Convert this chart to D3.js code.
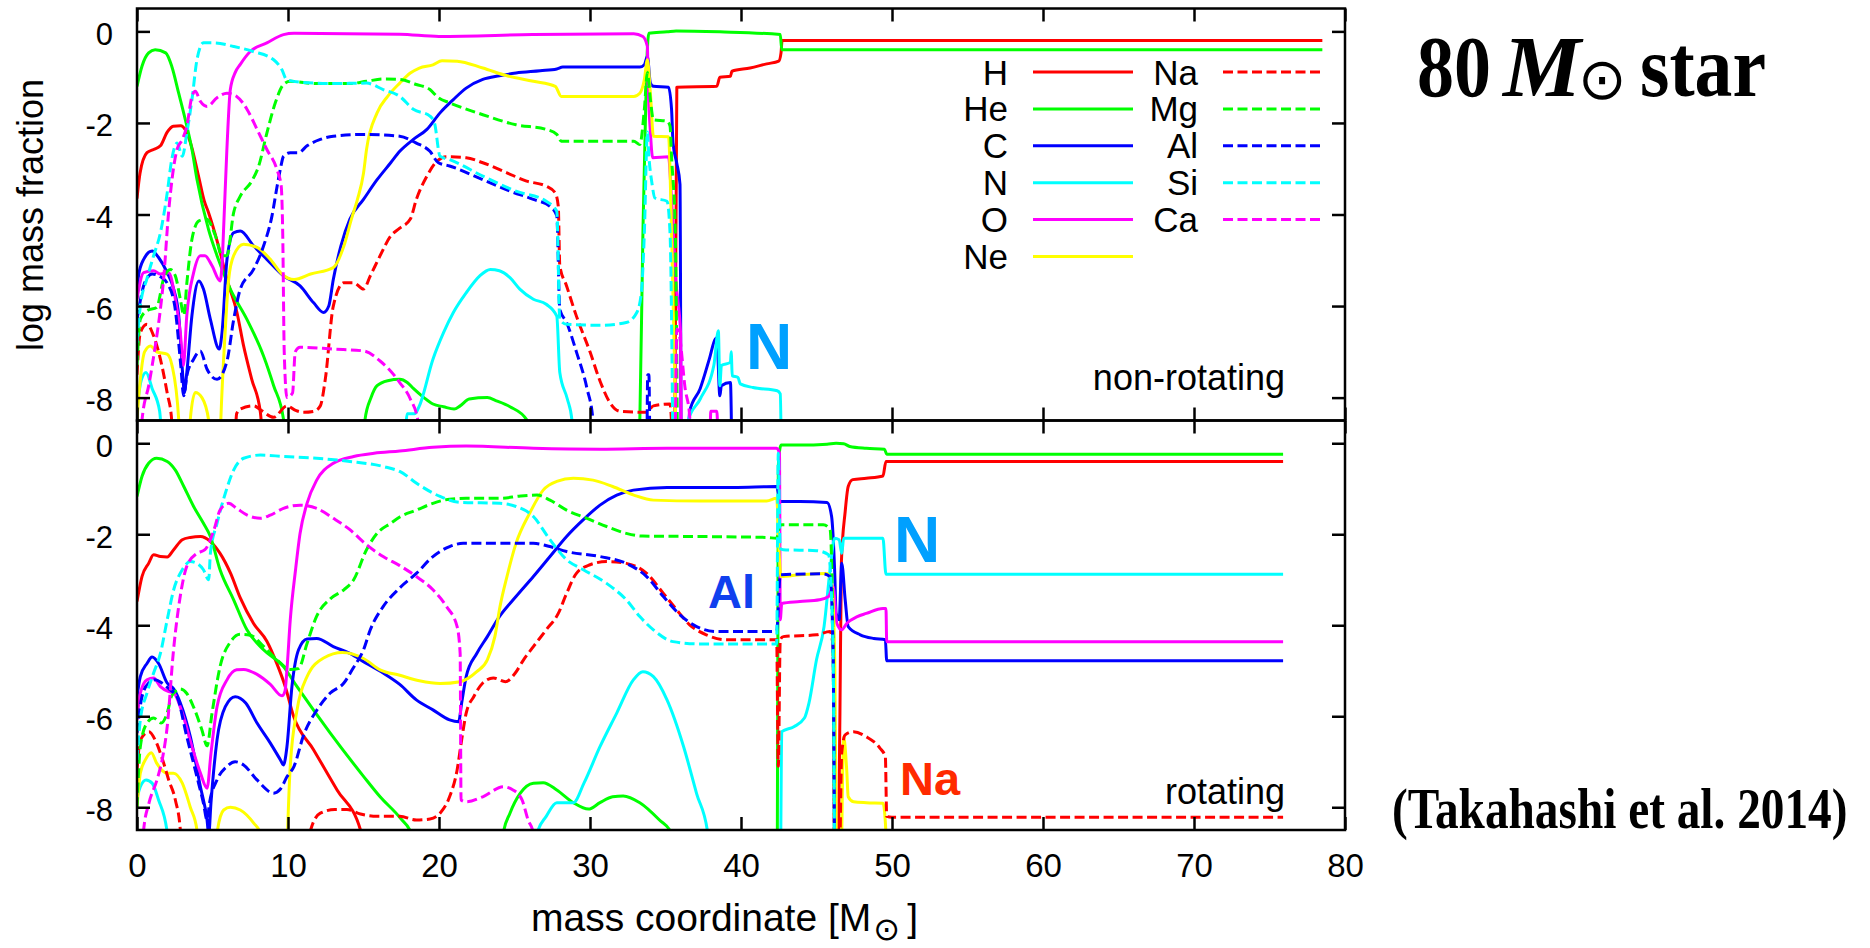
<!DOCTYPE html>
<html>
<head>
<meta charset="utf-8">
<script src="https://cdn.jsdelivr.net/npm/d3@7"></script>
<style>
  html, body { margin: 0; padding: 0; background: #fff; }
  svg { display: block; }
  text { font-family: "Liberation Sans", Arial, Helvetica, sans-serif; fill: #000; }
</style>
</head>
<body>
<svg id="chart" width="1870" height="948"></svg>
<script>
// ---- axes ----
const massDomain = [0, 80];
const logDomain = [-8.5, 0.5];
const massTicks = [0, 10, 20, 30, 40, 50, 60, 70, 80];
const massTickLabels = ["0", "10", "20", "30", "40", "50", "60", "70", "80"];
const logTicks = [0, -2, -4, -6, -8];
const logTickLabels = ["0", "-2", "-4", "-6", "-8"];

// ---- species ----
const elements = ["H", "He", "C", "N", "O", "Ne", "Na", "Mg", "Al", "Si", "Ca"];

// ---- non-rotating model: [mass coordinate, log mass fraction] ----
const nrH = [[0,-3.65],[0.2,-3.1],[0.66,-2.65],[1.1,-2.58],[1.55,-2.5],[2.0,-2.2],[2.4,-2.07],[2.9,-2.06],[3.2,-2.15],[3.6,-2.5],[4.1,-3.2],[4.45,-3.7],[4.74,-3.96],[5.4,-4.69],[5.96,-5.42],[6.62,-6.14],[7.06,-6.87],[7.6,-7.6],[8.17,-8.32],[8.5,-9.5],[35.6,-9.5],[35.75,-1.22],[38.4,-1.2],[38.6,-1.0],[39.3,-0.98],[39.4,-0.87],[40.6,-0.8],[41.7,-0.71],[42.5,-0.65],[42.65,-0.47],[42.72,-0.2],[78.5,-0.2]];
const nrHe = [[0,-1.2],[0.33,-0.76],[0.77,-0.47],[1.2,-0.4],[1.9,-0.47],[2.3,-0.76],[2.76,-1.35],[3.2,-1.93],[3.64,-2.58],[3.97,-3.23],[4.74,-4.33],[5.3,-4.9],[6.18,-5.63],[7.28,-6.29],[8.38,-7.09],[9.05,-7.74],[9.7,-8.47],[9.9,-9.5],[14.9,-9.5],[15.1,-8.48],[15.5,-8.0],[15.9,-7.74],[16.6,-7.63],[17.4,-7.6],[17.9,-7.67],[18.3,-7.8],[19.0,-8.0],[19.6,-8.14],[20.3,-8.2],[21.0,-8.25],[21.4,-8.18],[22.0,-8.03],[23.2,-8.0],[23.8,-8.07],[24.7,-8.2],[25.8,-8.48],[26.0,-9.5],[33.2,-9.5],[33.3,-8.5],[33.5,-4.5],[33.75,-0.76],[33.9,-0.04],[35.1,-0.01],[35.7,0.01],[38.6,-0.01],[42.6,-0.07],[42.7,-0.4],[78.5,-0.4]];
const nrC = [[0,-5.7],[0.1,-5.34],[0.44,-4.98],[1.0,-4.8],[1.43,-4.94],[2.0,-5.27],[2.43,-5.63],[2.76,-6.2],[3.05,-7.6],[3.13,-7.9],[3.3,-7.45],[3.64,-6.2],[4.1,-5.45],[4.4,-5.63],[4.86,-6.29],[5.45,-6.94],[5.63,-6.58],[5.96,-4.98],[6.4,-4.4],[6.84,-4.36],[7.73,-4.69],[8.6,-4.98],[9.7,-5.34],[10.8,-5.56],[11.7,-5.93],[12.36,-6.14],[12.7,-6.0],[13.0,-5.42],[13.5,-4.69],[14.1,-4.1],[15.0,-3.67],[15.9,-3.24],[16.8,-2.87],[17.4,-2.62],[18.3,-2.36],[19.2,-2.14],[20.07,-1.78],[20.95,-1.49],[21.8,-1.24],[22.9,-1.05],[24.0,-0.97],[25.1,-0.91],[26.7,-0.86],[27.8,-0.82],[28.2,-0.78],[33.3,-0.78],[33.6,-0.73],[33.8,-0.55],[34.0,-1.13],[34.2,-1.2],[35.2,-1.22],[35.4,-1.7],[35.5,-2.44],[35.74,-2.87],[35.96,-3.34],[36.05,-9.5],[36.4,-9.5],[36.6,-8.3],[37.3,-7.8],[37.9,-7.16],[38.3,-6.72],[38.4,-6.7],[38.6,-7.96],[38.7,-7.74],[39.3,-7.67],[39.4,-9.5]];
const nrN = [[0,-8.2],[0.3,-7.6],[0.6,-7.45],[1.0,-7.8],[1.5,-8.3],[1.8,-9.5],[17.6,-9.5],[17.9,-8.35],[18.4,-8.35],[18.7,-8.18],[19.6,-7.16],[20.3,-6.58],[20.95,-6.14],[21.8,-5.71],[22.7,-5.34],[23.4,-5.2],[24.0,-5.23],[24.7,-5.38],[25.35,-5.63],[26.25,-5.85],[27.1,-5.96],[27.8,-6.22],[28.0,-7.45],[28.5,-8.03],[28.8,-8.48],[28.9,-9.5],[36.3,-9.5],[36.5,-8.5],[37.3,-8.03],[38.2,-7.3],[38.5,-6.54],[38.6,-7.74],[38.7,-7.3],[39.3,-7.23],[39.35,-7.0],[39.42,-7.52],[39.8,-7.56],[39.95,-7.7],[40.8,-7.78],[42.4,-7.85],[42.6,-7.92],[42.68,-9.5]];
const nrO = [[0,-5.85],[0.44,-5.27],[1.1,-5.23],[1.55,-5.3],[2.1,-5.27],[2.54,-5.85],[2.87,-6.58],[3.07,-7.3],[3.3,-6.2],[3.75,-5.27],[4.2,-4.9],[4.5,-4.9],[4.97,-5.12],[5.5,-5.45],[5.63,-5.1],[5.75,-4.2],[5.95,-2.6],[6.18,-1.27],[6.5,-0.9],[6.84,-0.72],[7.5,-0.44],[8.6,-0.25],[9.7,-0.07],[10.4,-0.04],[17.4,-0.06],[20.0,-0.11],[26.2,-0.07],[32.9,-0.05],[33.5,-0.11],[33.8,-0.33],[33.85,-1.13],[34.0,-2.2],[34.15,-2.76],[35.2,-2.74],[35.4,-3.67],[35.7,-5.5],[36.0,-6.6],[36.05,-9.5],[37.9,-9.5],[38.0,-8.3],[38.4,-8.3],[38.5,-9.5]];
const nrNe = [[0,-8.47],[0.22,-7.6],[0.5,-7.0],[0.89,-6.87],[1.3,-7.0],[1.99,-7.05],[2.32,-7.3],[2.76,-8.47],[2.85,-9.5],[3.35,-9.5],[3.53,-8.47],[3.86,-7.89],[4.3,-8.0],[4.75,-8.5],[4.85,-9.5],[5.45,-9.5],[5.55,-8.5],[5.85,-6.5],[6.07,-5.42],[6.4,-4.9],[7.06,-4.65],[7.95,-4.72],[8.83,-4.98],[9.6,-5.3],[10.4,-5.42],[11.5,-5.3],[13.0,-5.16],[13.7,-4.69],[14.2,-4.1],[14.6,-3.67],[15.0,-3.1],[15.2,-2.58],[15.9,-1.78],[16.6,-1.42],[17.4,-1.13],[18.1,-0.91],[18.7,-0.8],[19.6,-0.73],[20.2,-0.64],[21.2,-0.65],[22.9,-0.8],[24.5,-0.97],[26.25,-1.09],[27.7,-1.2],[28.1,-1.42],[32.9,-1.42],[33.3,-1.35],[33.6,-1.05],[33.8,-0.62],[34.0,-1.35],[34.2,-2.29],[35.2,-2.3],[35.4,-4.4],[35.6,-7.3],[35.7,-9.5]];
const nrNa = [[0,-7.5],[0.22,-6.58],[0.66,-6.4],[1.1,-6.65],[1.55,-7.16],[2.0,-7.9],[2.3,-8.5],[2.4,-9.5],[6.4,-9.5],[6.6,-8.35],[6.84,-8.25],[7.72,-8.18],[8.2,-8.27],[9.05,-8.43],[9.93,-8.18],[10.5,-8.28],[11.03,-8.32],[11.7,-8.3],[12.14,-8.18],[12.47,-7.6],[13.0,-6.0],[13.7,-5.49],[14.35,-5.49],[15.0,-5.63],[15.45,-5.34],[16.1,-4.9],[16.8,-4.47],[17.4,-4.3],[18.1,-4.1],[18.5,-3.67],[19.2,-3.16],[19.85,-2.84],[20.5,-2.74],[21.8,-2.76],[22.9,-2.87],[24.5,-3.09],[25.8,-3.27],[27.1,-3.38],[27.7,-3.53],[27.9,-3.82],[28.0,-5.12],[28.45,-5.56],[29.1,-6.22],[30.0,-7.0],[30.7,-7.67],[31.3,-8.1],[32.0,-8.3],[33.75,-8.32],[34.2,-8.18],[35.3,-8.14],[35.5,-9.5]];
const nrMg = [[0,-7.3],[0.22,-6.29],[0.66,-6.1],[1.3,-6.03],[1.77,-5.4],[2.2,-5.2],[2.54,-5.34],[2.87,-5.85],[3.1,-6.2],[3.3,-5.5],[3.64,-4.54],[4.1,-4.14],[4.6,-4.1],[5.2,-4.47],[5.63,-4.9],[5.96,-4.9],[6.4,-3.96],[6.84,-3.6],[7.6,-3.27],[8.06,-2.94],[8.6,-2.22],[9.16,-1.56],[9.7,-1.16],[10.15,-1.09],[11.9,-1.14],[14.1,-1.14],[15.2,-1.09],[16.3,-1.04],[17.4,-1.05],[18.5,-1.16],[19.4,-1.27],[19.96,-1.45],[20.7,-1.56],[22.9,-1.82],[25.1,-2.04],[27.1,-2.14],[27.8,-2.25],[28.1,-2.4],[32.9,-2.4],[33.3,-2.47],[33.6,-1.7],[33.8,-0.9],[34.0,-1.49],[34.2,-1.93],[35.1,-1.96],[35.3,-2.07],[35.4,-2.73],[35.65,-4.4],[35.8,-9.5]];
const nrAl = [[0,-6.3],[0.5,-5.5],[1.0,-5.3],[1.5,-5.35],[2.0,-5.5],[2.5,-6.0],[2.9,-7.3],[3.09,-7.96],[3.3,-7.52],[3.75,-7.16],[4.19,-6.98],[4.64,-7.38],[5.3,-7.6],[5.96,-7.2],[6.4,-6.3],[6.84,-5.63],[7.72,-5.2],[8.38,-4.69],[8.94,-4.03],[9.27,-3.4],[9.5,-3.0],[9.7,-2.73],[10.15,-2.65],[10.7,-2.65],[11.26,-2.5],[12.14,-2.36],[13.0,-2.29],[15.2,-2.25],[17.4,-2.29],[18.5,-2.44],[19.4,-2.62],[19.96,-2.87],[20.7,-2.94],[22.9,-3.24],[24.7,-3.49],[26.25,-3.67],[27.35,-3.82],[27.8,-4.03],[28.0,-6.07],[28.45,-6.36],[29.1,-7.0],[29.8,-7.8],[30.2,-8.5],[30.3,-9.5],[33.75,-9.5],[33.82,-7.5],[33.9,-7.5],[33.97,-9.5]];
const nrSi = [[0,-6.8],[0.22,-6.0],[0.66,-5.4],[1.1,-4.9],[1.55,-4.4],[2.0,-3.53],[2.3,-2.8],[2.65,-2.44],[3.0,-2.73],[3.3,-2.22],[3.64,-1.49],[3.97,-0.62],[4.4,-0.25],[5.1,-0.25],[6.4,-0.33],[7.7,-0.44],[9.05,-0.62],[9.6,-0.84],[9.9,-1.05],[10.8,-1.11],[13.0,-1.14],[15.2,-1.13],[16.3,-1.27],[17.4,-1.42],[18.3,-1.7],[19.4,-1.85],[19.7,-2.0],[20.07,-2.73],[20.7,-2.8],[22.9,-3.16],[25.1,-3.49],[27.1,-3.71],[27.8,-3.93],[28.0,-6.29],[28.45,-6.4],[30.66,-6.42],[32.4,-6.36],[33.1,-6.14],[33.4,-5.71],[33.6,-4.4],[33.8,-2.2],[33.9,-2.73],[34.1,-3.31],[34.3,-3.64],[35.1,-3.71],[35.3,-4.4],[35.5,-9.5]];
const nrCa = [[0.2,-9.5],[0.33,-8.5],[0.8,-7.7],[1.21,-6.87],[1.5,-6.2],[1.76,-5.42],[2.09,-3.96],[2.32,-3.23],[2.65,-2.58],[3.0,-2.36],[3.3,-2.07],[3.64,-1.42],[3.86,-1.31],[4.2,-1.53],[4.64,-1.64],[5.3,-1.45],[5.96,-1.35],[6.6,-1.42],[7.3,-1.71],[7.95,-2.14],[8.6,-2.58],[9.27,-3.02],[9.55,-3.38],[9.65,-4.4],[9.75,-7.0],[9.93,-8.0],[10.3,-7.9],[10.48,-7.0],[10.8,-6.9],[13.0,-6.94],[15.0,-6.98],[16.1,-7.2],[17.4,-7.67],[18.1,-8.03],[18.6,-8.5],[18.7,-9.5],[35.6,-9.5],[35.75,-6.5],[35.9,-6.6],[36.3,-7.8],[36.6,-8.4],[36.7,-9.5]];

// ---- rotating model: [mass coordinate, log mass fraction] ----
const rH = [[0,-3.48],[0.33,-2.93],[0.77,-2.64],[1.1,-2.45],[1.55,-2.49],[2.0,-2.5],[2.43,-2.34],[3.0,-2.12],[3.53,-2.07],[4.2,-2.05],[4.86,-2.16],[5.5,-2.42],[6.2,-2.86],[6.84,-3.4],[7.72,-3.96],[8.6,-4.35],[9.27,-4.85],[9.82,-5.35],[10.37,-6.0],[11.7,-6.74],[13.25,-7.62],[14.8,-8.5],[15.0,-9.5],[46.4,-9.5],[46.55,-6.0],[46.65,-2.6],[46.9,-1.5],[47.1,-0.95],[47.4,-0.8],[48.3,-0.77],[49.4,-0.72],[49.6,-0.4],[75.9,-0.4]];
const rHe = [[0,-1.17],[0.33,-0.73],[0.77,-0.44],[1.3,-0.33],[2.0,-0.4],[2.54,-0.59],[3.1,-0.95],[3.75,-1.39],[4.4,-1.76],[4.86,-2.05],[5.5,-2.78],[6.4,-3.44],[7.28,-4.1],[8.38,-4.54],[9.7,-4.91],[10.6,-5.35],[12.8,-6.37],[15.0,-7.32],[16.1,-7.77],[17.44,-8.24],[18.2,-8.6],[18.4,-9.5],[24.0,-9.5],[24.26,-8.57],[24.7,-8.13],[25.36,-7.7],[26.25,-7.47],[26.9,-7.46],[27.8,-7.62],[28.9,-7.9],[29.9,-8.04],[30.66,-7.9],[31.5,-7.77],[32.2,-7.75],[33.3,-7.9],[34.6,-8.28],[35.4,-8.57],[35.6,-9.5],[42.4,-9.5],[42.47,-0.5],[42.65,-0.04],[43.9,-0.04],[45.7,-0.02],[46.3,0],[46.8,-0.01],[47.2,-0.07],[48.3,-0.11],[49.5,-0.13],[49.65,-0.24],[75.9,-0.24]];
const rC = [[0,-5.57],[0.22,-5.13],[0.66,-4.84],[1.0,-4.7],[1.43,-4.84],[2.0,-5.27],[2.43,-5.4],[2.87,-5.71],[3.53,-6.45],[4.2,-7.55],[4.64,-8.28],[4.75,-8.6],[4.9,-7.9],[5.3,-6.52],[5.85,-5.79],[6.5,-5.57],[7.2,-5.71],[7.95,-6.15],[8.83,-6.59],[9.5,-6.96],[9.7,-7.07],[9.93,-6.67],[10.26,-5.35],[10.7,-4.54],[11.26,-4.3],[11.9,-4.29],[13.0,-4.47],[14.1,-4.62],[15.2,-4.84],[16.3,-5.05],[17.4,-5.3],[18.5,-5.64],[19.6,-5.86],[20.7,-6.08],[21.3,-6.12],[21.5,-5.71],[21.8,-5.13],[22.5,-4.62],[23.2,-4.25],[24.0,-3.81],[25.1,-3.37],[26.25,-2.93],[27.35,-2.49],[28.45,-2.05],[29.56,-1.68],[30.66,-1.36],[31.77,-1.14],[32.87,-1.03],[35.1,-0.97],[39.5,-0.97],[42.36,-0.95],[42.6,-1.28],[43.9,-1.28],[45.7,-1.3],[46.0,-1.61],[46.2,-2.78],[46.3,-3.74],[46.5,-3.88],[46.67,-2.64],[46.9,-3.44],[47.1,-4.03],[47.9,-4.21],[48.8,-4.29],[49.56,-4.32],[49.65,-4.78],[75.9,-4.78]];
const rN = [[0,-7.8],[0.22,-7.55],[0.6,-7.4],[1.0,-7.47],[1.43,-7.84],[2.0,-8.55],[2.1,-9.5],[26.3,-9.5],[26.5,-8.57],[27.1,-8.2],[27.8,-7.9],[28.9,-7.9],[29.6,-7.47],[30.66,-6.67],[31.77,-5.93],[32.87,-5.2],[33.5,-5.02],[34.2,-5.13],[35.1,-5.64],[36.2,-6.67],[37.06,-7.7],[37.8,-8.57],[37.9,-9.5],[42.6,-9.5],[42.7,-6.34],[43.5,-6.23],[44.2,-6.04],[44.5,-5.71],[45.0,-4.76],[45.5,-4.03],[45.9,-2.78],[46.2,-2.09],[46.5,-2.12],[46.67,-2.42],[46.8,-2.09],[49.4,-2.09],[49.6,-2.88],[75.9,-2.88]];
const rO = [[0,-6.08],[0.22,-5.49],[0.66,-5.2],[1.1,-5.16],[1.55,-5.35],[2.1,-5.46],[2.43,-5.49],[3.0,-5.93],[3.64,-6.67],[4.2,-7.25],[4.64,-7.58],[4.9,-6.81],[5.3,-5.79],[5.96,-5.2],[6.6,-4.98],[7.06,-4.97],[7.95,-5.08],[8.83,-5.3],[9.6,-5.55],[9.8,-5.45],[9.93,-4.98],[10.15,-3.88],[10.5,-2.78],[10.8,-1.98],[11.26,-1.32],[11.9,-0.81],[13.0,-0.44],[14.35,-0.29],[15.7,-0.22],[17.4,-0.17],[19.6,-0.09],[21.8,-0.06],[26.25,-0.11],[30.66,-0.13],[35.1,-0.11],[42.36,-0.11],[42.55,-0.22],[42.6,-3.88],[42.7,-3.52],[43.9,-3.48],[45.2,-3.44],[45.8,-3.37],[46.1,-3.15],[46.35,-3.96],[46.67,-4.1],[47.0,-3.96],[47.7,-3.81],[48.3,-3.74],[49.4,-3.63],[49.6,-3.63],[49.65,-4.36],[75.9,-4.36]];
const rNe = [[0,-8.0],[0.22,-7.25],[0.55,-6.96],[0.95,-6.8],[1.3,-7.03],[2.0,-7.25],[2.42,-7.25],[3.0,-7.47],[3.53,-8.0],[3.97,-8.5],[4.1,-9.5],[5.2,-9.5],[5.3,-8.57],[5.74,-8.06],[6.18,-8.0],[6.84,-8.06],[7.73,-8.35],[8.17,-8.57],[8.3,-9.5],[9.9,-9.5],[9.98,-8.5],[10.15,-7.1],[10.6,-5.86],[11.26,-5.13],[12.36,-4.72],[13.6,-4.6],[15.0,-4.73],[16.1,-4.98],[17.4,-5.1],[18.7,-5.22],[20.07,-5.28],[21.4,-5.24],[22.5,-5.02],[23.2,-4.76],[23.7,-4.25],[24.04,-3.59],[24.5,-2.93],[25.1,-2.2],[26.0,-1.54],[26.9,-1.03],[27.8,-0.84],[28.9,-0.77],[30.2,-0.81],[31.5,-0.95],[32.9,-1.14],[34.2,-1.25],[37.3,-1.27],[41.7,-1.27],[42.36,-1.21],[42.55,-2.56],[42.65,-2.93],[43.9,-2.89],[45.7,-2.86],[46.0,-3.08],[46.2,-4.62],[46.35,-9.5],[46.6,-9.5],[46.8,-6.45],[47.0,-7.18],[47.1,-7.77],[47.45,-7.88],[48.3,-7.9],[49.4,-7.91],[49.6,-8.57],[49.7,-9.5]];
const rNa = [[0,-7.2],[0.22,-6.52],[0.8,-6.34],[1.2,-6.52],[1.7,-6.96],[2.1,-7.4],[2.54,-7.84],[2.87,-8.5],[3.0,-9.5],[11.3,-9.5],[11.5,-8.5],[12.14,-8.13],[13.1,-8.05],[13.9,-8.05],[14.8,-8.15],[15.9,-8.2],[17.4,-8.2],[18.5,-8.28],[19.4,-8.26],[20.07,-8.13],[20.7,-7.77],[21.2,-7.18],[21.5,-6.52],[21.8,-5.93],[22.3,-5.57],[22.9,-5.27],[23.6,-5.16],[24.4,-5.24],[25.05,-5.05],[25.6,-4.76],[26.25,-4.47],[27.1,-4.1],[27.9,-3.74],[28.45,-3.3],[29.1,-2.86],[30.0,-2.67],[31.1,-2.6],[32.4,-2.64],[33.75,-2.86],[34.86,-3.3],[35.74,-3.66],[36.6,-3.99],[37.7,-4.21],[39.05,-4.32],[42.36,-4.32],[42.47,-7.1],[42.6,-4.32],[42.8,-4.25],[45.0,-4.21],[45.9,-4.14],[46.1,-4.47],[46.2,-9.5],[46.5,-9.5],[46.67,-6.81],[46.9,-6.41],[47.45,-6.34],[48.3,-6.45],[49.2,-6.7],[49.56,-6.89],[49.65,-8.2],[50.0,-8.22],[75.9,-8.22]];
const rMg = [[0,-8.0],[0.22,-6.67],[0.66,-6.15],[1.1,-6.04],[1.6,-6.15],[2.0,-5.93],[2.3,-5.55],[2.87,-5.4],[3.3,-5.5],[3.75,-5.8],[4.3,-6.3],[4.64,-6.65],[4.97,-5.93],[5.5,-4.91],[6.2,-4.36],[6.84,-4.2],[7.5,-4.22],[8.4,-4.47],[9.27,-4.76],[10.15,-4.97],[10.7,-4.95],[11.26,-4.4],[11.9,-3.8],[12.8,-3.42],[13.7,-3.22],[14.35,-3.0],[15.2,-2.34],[15.9,-1.98],[16.8,-1.76],[17.4,-1.62],[18.5,-1.47],[19.6,-1.32],[20.7,-1.23],[21.8,-1.21],[24.04,-1.21],[25.4,-1.16],[26.5,-1.14],[27.35,-1.25],[28.45,-1.47],[29.8,-1.65],[31.1,-1.83],[32.4,-1.98],[33.5,-2.04],[37.3,-2.05],[41.7,-2.07],[42.36,-2.09],[42.55,-1.83],[42.7,-1.79],[45.45,-1.79],[45.9,-1.9],[46.1,-4.62],[46.2,-9.5]];
const rAl = [[0,-6.37],[0.33,-5.57],[0.77,-5.27],[1.2,-5.2],[1.65,-5.27],[2.2,-5.42],[2.65,-5.57],[3.3,-6.45],[3.97,-7.33],[4.4,-7.91],[4.64,-8.28],[4.8,-7.91],[5.3,-7.4],[5.96,-7.1],[6.5,-7.0],[7.06,-7.07],[7.95,-7.4],[9.05,-7.69],[9.5,-7.6],[9.93,-7.33],[10.4,-7.1],[11.03,-6.42],[11.92,-5.86],[12.8,-5.49],[13.7,-5.27],[14.3,-4.95],[15.0,-4.54],[15.45,-4.1],[16.3,-3.59],[17.4,-3.18],[18.5,-2.86],[19.6,-2.49],[20.7,-2.27],[21.6,-2.2],[26.25,-2.2],[27.35,-2.27],[28.45,-2.38],[30.66,-2.49],[32.4,-2.64],[33.75,-2.93],[34.86,-3.37],[35.96,-3.77],[37.06,-4.03],[38.4,-4.14],[42.36,-4.14],[42.6,-2.89],[45.45,-2.87],[45.9,-2.93],[46.1,-4.62],[46.2,-9.5]];
const rSi = [[0,-6.96],[0.22,-6.08],[0.66,-5.49],[1.1,-5.05],[1.55,-4.62],[2.0,-3.88],[2.43,-3.22],[3.0,-2.78],[3.53,-2.6],[3.97,-2.64],[4.4,-2.78],[4.75,-3.0],[4.86,-2.42],[5.3,-1.76],[5.85,-1.1],[6.4,-0.59],[7.06,-0.33],[8.17,-0.26],[9.7,-0.29],[11.9,-0.33],[14.1,-0.4],[16.3,-0.51],[17.4,-0.62],[18.7,-0.92],[20.07,-1.17],[21.4,-1.3],[24.04,-1.32],[25.1,-1.39],[26.25,-1.61],[27.35,-2.12],[28.45,-2.56],[29.56,-2.78],[31.1,-3.08],[32.4,-3.44],[33.3,-3.81],[34.2,-4.1],[35.5,-4.36],[37.3,-4.41],[42.36,-4.41],[42.47,-0.22],[42.6,-2.31],[42.8,-2.34],[45.0,-2.36],[45.8,-2.45],[46.1,-4.62],[46.2,-9.5]];
const rCa = [[0.25,-9.5],[0.44,-8.5],[0.8,-7.9],[1.32,-7.4],[1.7,-6.9],[2.0,-6.23],[2.42,-4.54],[2.87,-3.35],[3.3,-2.7],[3.97,-2.42],[4.5,-2.34],[5.1,-1.9],[5.5,-1.47],[6.07,-1.32],[6.6,-1.43],[7.3,-1.58],[8.17,-1.65],[8.83,-1.58],[9.7,-1.43],[10.8,-1.36],[11.9,-1.43],[13.0,-1.65],[14.1,-1.9],[15.2,-2.23],[16.3,-2.49],[17.4,-2.69],[18.5,-2.93],[19.6,-3.22],[20.5,-3.59],[21.2,-4.03],[21.4,-4.62],[21.46,-7.84],[21.8,-7.88],[22.9,-7.77],[24.26,-7.55],[24.9,-7.62],[25.5,-7.84],[25.9,-8.28],[26.25,-8.57],[26.4,-9.5]];

// ---- line styles per species ----
const speciesColor = { H: "#ff0000", He: "#00ff00", C: "#0000ff", N: "#00ffff", O: "#ff00ff", Ne: "#ffff00",
                       Na: "#ff0000", Mg: "#00ff00", Al: "#0000ff", Si: "#00ffff", Ca: "#ff00ff" };
const dashedSpecies = ["Na", "Mg", "Al", "Si", "Ca"];

const nonRotatingSeries = { H: nrH, He: nrHe, C: nrC, N: nrN, O: nrO, Ne: nrNe, Na: nrNa, Mg: nrMg, Al: nrAl, Si: nrSi, Ca: nrCa };
const rotatingSeries = { H: rH, He: rHe, C: rC, N: rN, O: rO, Ne: rNe, Na: rNa, Mg: rMg, Al: rAl, Si: rSi, Ca: rCa };

// ---- layout ----
const svg = d3.select("#chart");
const left = 137, right = 1345;
const x = d3.scaleLinear().domain(massDomain).range([left, right]);

const panels = [
  { series: nonRotatingSeries, top: 8.5, bottom: 420.5, tag: "non-rotating", tagY: 390 },
  { series: rotatingSeries, top: 420.5, bottom: 830, tag: "rotating", tagY: 804 }
];

const frameWidth = 2.5, tickLen = 13, lineWidth = 3, dashPattern = "10,4.5";

panels.forEach((p, i) => {
  const y = d3.scaleLinear().domain(logDomain).range([p.bottom, p.top]);

  svg.append("clipPath").attr("id", "plotClip" + i)
    .append("rect").attr("x", left).attr("y", p.top)
    .attr("width", right - left).attr("height", p.bottom - p.top);

  const lines = svg.append("g").attr("clip-path", `url(#plotClip${i})`);
  const line = d3.line().x(d => x(d[0])).y(d => y(d[1])).curve(d3.curveMonotoneX);

  lines.selectAll("path")
    .data(elements)
    .join("path")
    .attr("d", el => line(p.series[el]))
    .attr("fill", "none")
    .attr("stroke", el => speciesColor[el])
    .attr("stroke-width", lineWidth)
    .attr("stroke-linejoin", "round")
    .attr("stroke-dasharray", el => dashedSpecies.includes(el) ? dashPattern : null);

  // y axis (left, labelled) and right (ticks only)
  const yAxis = svg.append("g").attr("transform", `translate(${left},0)`)
    .call(d3.axisLeft(y).tickValues(logTicks).tickSizeInner(-tickLen).tickSizeOuter(0)
      .tickPadding(24).tickFormat((d, k) => logTickLabels[k]));
  yAxis.selectAll("text").attr("font-size", 31).attr("dy", "0.42em")
    .style("font-family", '"Liberation Sans", Arial, sans-serif');

  svg.append("g").attr("transform", `translate(${right},0)`)
    .call(d3.axisRight(y).tickValues(logTicks).tickSizeInner(-tickLen).tickSizeOuter(0).tickFormat(""));

  // x ticks on top and bottom edges of each panel
  svg.append("g").attr("transform", `translate(0,${p.top})`)
    .call(d3.axisTop(x).tickValues(massTicks).tickSizeInner(-tickLen).tickSizeOuter(0).tickFormat(""));
  const xb = svg.append("g").attr("transform", `translate(0,${p.bottom})`)
    .call(d3.axisBottom(x).tickValues(massTicks).tickSizeInner(-tickLen).tickSizeOuter(0).tickPadding(24)
      .tickFormat((d, k) => i === 1 ? massTickLabels[k] : ""));
  xb.selectAll("text").attr("font-size", 33)
    .style("font-family", '"Liberation Sans", Arial, sans-serif');

  // panel frame
  svg.append("rect").attr("x", left).attr("y", p.top)
    .attr("width", right - left).attr("height", p.bottom - p.top)
    .attr("fill", "none").attr("stroke", "#000").attr("stroke-width", frameWidth);

  // model tag
  svg.append("text").attr("x", 1285).attr("y", p.tagY).attr("text-anchor", "end")
    .attr("font-size", 36).text(p.tag);
});

svg.selectAll(".domain").remove();
svg.selectAll(".tick line").attr("stroke", "#000").attr("stroke-width", frameWidth);

// ---- legend (inside the upper panel) ----
const legendRows = 6, rowStep = 36.9, firstRow = 72;
const legendItems = svg.append("g").selectAll("g")
  .data(elements)
  .join("g")
  .attr("transform", (el, k) => {
    const col = k < legendRows ? 0 : 1;
    const row = col === 0 ? k : k - legendRows;
    return `translate(${col === 0 ? 1008 : 1198},${firstRow + row * rowStep})`;
  });
legendItems.append("text").attr("text-anchor", "end").attr("y", 12.5)
  .attr("font-size", 35).text(el => el);
legendItems.append("line").attr("x1", 25).attr("x2", 125).attr("y1", 0).attr("y2", 0)
  .attr("stroke", el => speciesColor[el]).attr("stroke-width", lineWidth)
  .attr("stroke-dasharray", el => dashedSpecies.includes(el) ? dashPattern : null);

// ---- axis titles ----
svg.append("text")
  .attr("transform", "translate(43,215) rotate(-90)")
  .attr("text-anchor", "middle").attr("font-size", 36)
  .text("log mass fraction");

const xTitle = svg.append("text").attr("x", 531).attr("y", 931).attr("font-size", 39);
xTitle.append("tspan").text("mass coordinate [M");
xTitle.append("tspan").attr("dx", 2).attr("dy", 9).attr("font-size", 32)
  .style("font-family", '"DejaVu Sans", sans-serif').text("⊙");
xTitle.append("tspan").attr("dx", 7).attr("dy", -9).text("]");

// ---- highlighted species annotations ----
const notes = [
  { text: "N", x: 746, y: 369, size: 64, color: "#00a0ff" },
  { text: "N", x: 894, y: 562, size: 64, color: "#00a0ff" },
  { text: "Al", x: 708, y: 608, size: 47, color: "#1040ee" },
  { text: "Na", x: 900, y: 795, size: 47, color: "#ff2a00" }
];
svg.selectAll("text.note").data(notes).join("text").attr("class", "note")
  .attr("x", d => d.x).attr("y", d => d.y).attr("font-size", d => d.size)
  .attr("font-weight", "bold").style("fill", d => d.color).text(d => d.text);

// ---- title and reference ----
const serif = '"Liberation Serif", "Times New Roman", Times, serif';
const title = svg.append("text").attr("y", 96).attr("font-size", 86).attr("font-weight", "bold")
  .style("font-family", serif);
title.append("tspan").attr("x", 1417).attr("textLength", 74).attr("lengthAdjust", "spacingAndGlyphs").text("80");
title.append("tspan").attr("x", 1503).attr("font-style", "italic").attr("textLength", 78)
  .attr("lengthAdjust", "spacingAndGlyphs").text("M");
title.append("tspan").attr("x", 1578).attr("dy", 3).attr("font-weight", "normal").attr("font-size", 58)
  .style("font-family", '"DejaVu Sans", sans-serif').text("⊙");
title.append("tspan").attr("x", 1640).attr("dy", -3).attr("textLength", 126)
  .attr("lengthAdjust", "spacingAndGlyphs").text("star");

svg.append("text").attr("transform", "translate(1392,828) scale(0.83,1)")
  .attr("font-size", 57).attr("font-weight", "bold")
  .style("font-family", serif)
  .text("(Takahashi et al. 2014)");
</script>
</body>
</html>
